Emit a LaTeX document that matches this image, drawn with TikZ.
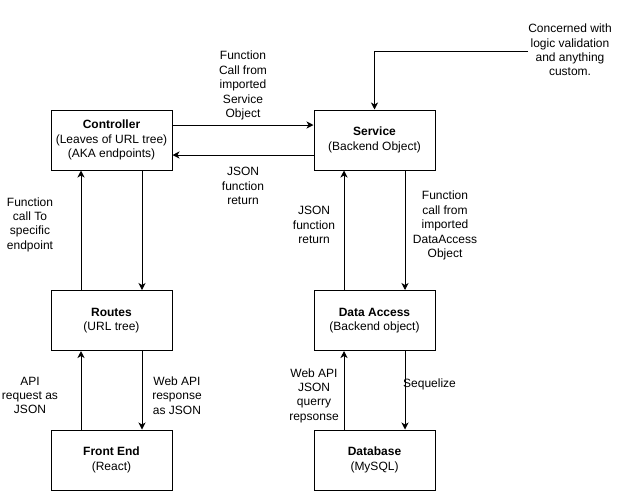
\documentclass[tikz,border=0pt]{standalone}
\usepackage{fontspec}
\setmainfont{Liberation Sans}
\usetikzlibrary{arrows.meta}
\begin{document}
\begin{tikzpicture}[x=1pt,y=-1pt,
  box/.style={draw,line width=1pt,minimum width=121pt,minimum height=60pt,
    align=center,inner sep=0pt,font=\fontsize{12}{14.4}\selectfont},
  lbl/.style={align=center,inner sep=0pt,font=\fontsize{12}{14.4}\selectfont},
  conn/.style={line width=1pt,-{Stealth[length=7pt,width=7pt,inset=2pt]}}]
\useasboundingbox (0,0) rectangle (620,491);

% layer boxes
\node[box] (ctrl) at (111.5,140) {\textbf{Controller}\\(Leaves of URL tree)\\(AKA endpoints)};
\node[box] (svc) at (374.5,140) {\textbf{Service}\\(Backend Object)};
\node[box] (routes) at (111.5,320.5) {\textbf{Routes}\\(URL tree)};
\node[box] (dao) at (374.5,320.5) {\textbf{Data Access}\\(Backend object)};
\node[box] (front) at (111.5,460) {\textbf{Front End}\\(React)};
\node[box] (db) at (374.5,460) {\textbf{Database}\\(MySQL)};

% controller <-> service (shifts are in page units: positive is up)
\draw[conn] ([yshift=15]ctrl.east) -- ([yshift=15]svc.west);
\draw[conn] ([yshift=-15]svc.west) -- ([yshift=-15]ctrl.east);

% routes <-> controller
\draw[conn] ([xshift=-30.5]routes.north) -- ([xshift=-30.5]ctrl.south);
\draw[conn] ([xshift=30.5]ctrl.south) -- ([xshift=30.5]routes.north);

% front end <-> routes
\draw[conn] ([xshift=-30.5]front.north) -- ([xshift=-30.5]routes.south);
\draw[conn] ([xshift=30.5]routes.south) -- ([xshift=30.5]front.north);

% data access <-> service
\draw[conn] ([xshift=-30.5]dao.north) -- ([xshift=-30.5]svc.south);
\draw[conn] ([xshift=30.5]svc.south) -- ([xshift=30.5]dao.north);

% database <-> data access
\draw[conn] ([xshift=-30.5]db.north) -- ([xshift=-30.5]dao.south);
\draw[conn] ([xshift=30.5]dao.south) -- ([xshift=30.5]db.north);

% note on the service layer
\node[lbl] (note) at (570,50) {Concerned with\\logic validation\\and anything\\custom.};
\coordinate (noteend) at (528,51);
\draw[conn] (noteend) -| (svc.north);

% connector labels
\node[lbl] (l1) at (243,85.5) {Function\\Call from\\imported\\Service\\Object};
\node[lbl] (l2) at (243,186) {JSON\\function\\return};
\node[lbl] (l3) at (30,224.5) {Function\\call To\\specific\\endpoint};
\node[lbl] (l4) at (314,225) {JSON\\function\\return};
\node[lbl] (l5) at (445,225.5) {Function\\call from\\imported\\DataAccess\\Object};
\node[lbl] (l6) at (30,395.5) {API\\request as\\JSON};
\node[lbl] (l7) at (177,395.5) {Web API\\response\\as JSON};
\node[lbl] (l8) at (314,395.5) {Web API\\JSON\\querry\\repsonse};
\node[lbl,anchor=west] (l9) at (403,384) {Sequelize};
\end{tikzpicture}
\end{document}
